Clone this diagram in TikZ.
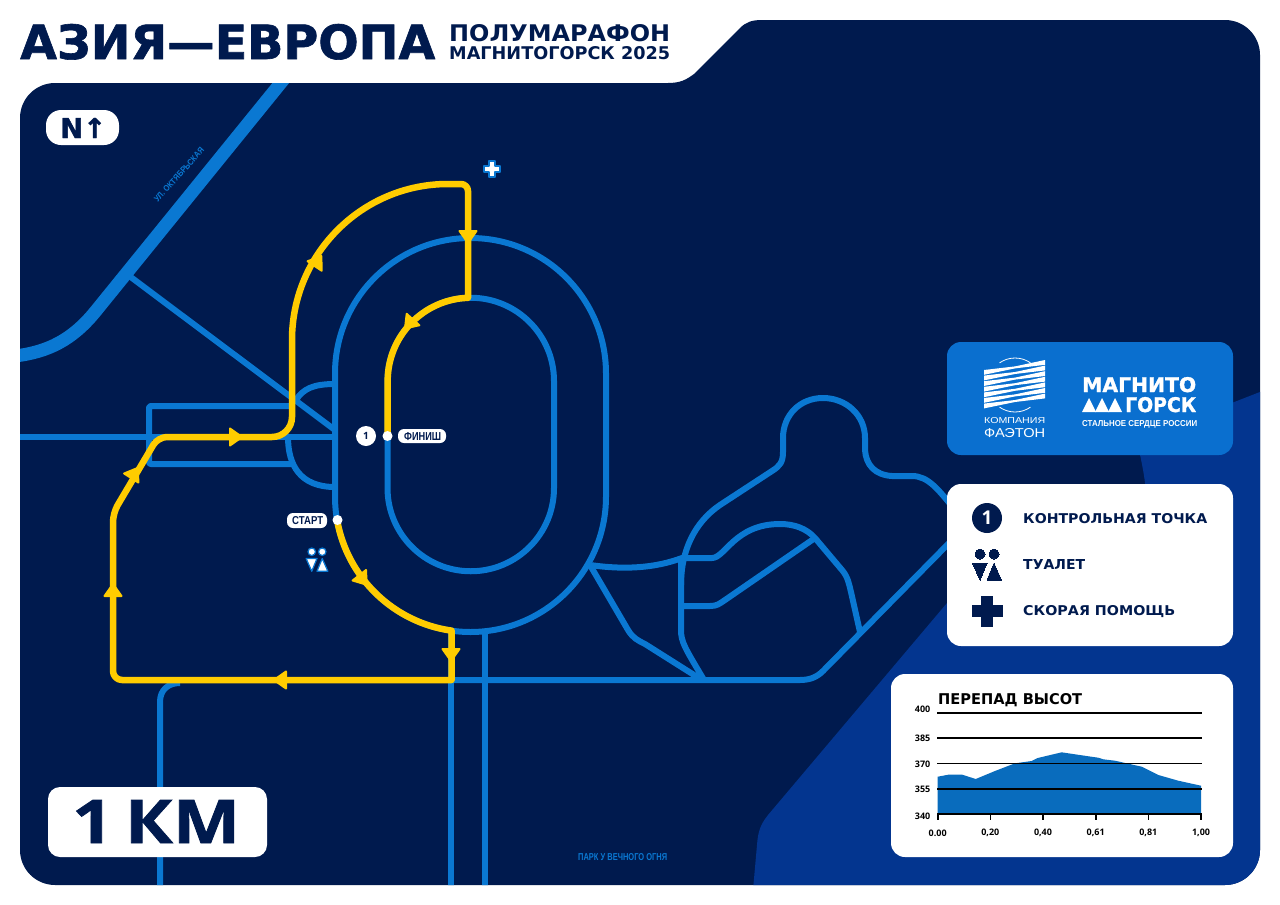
\documentclass[tikz,border=0pt]{standalone}
\usepackage{fontspec}
\usepackage{graphicx}
\setmainfont{Liberation Sans}
\newfontfamily\widefont{DejaVu Sans}
\newfontfamily\heavyfont{DejaVu Sans}[BoldFeatures={FakeBold=1.3}]
\newfontfamily\blockfont{Open Sans}[BoldFeatures={FakeBold=1.2}]
\newfontfamily\digitfont{Open Sans}
\usetikzlibrary{calc}

\definecolor{mapnavy}{HTML}{001A4E}
\definecolor{mapdeep}{HTML}{03358F}
\definecolor{roadblue}{HTML}{0A78D2}
\definecolor{logoblue}{HTML}{0A6FCF}
\definecolor{trackyellow}{HTML}{FFCC00}

\tikzset{
	road/.style={draw=roadblue, line width=6pt, line join=round},
	track/.style={draw=trackyellow, line width=6.5pt, line join=round, line cap=round},
	panel/.style={fill=white, rounded corners=14pt},
	txt/.style={inner sep=0pt, anchor=base west, text=mapnavy},
	pill/.style={fill=white, rounded corners=6pt},
	dot/.style={fill=white},
	gridline/.style={draw=black, line width=1.6pt}
}

\newcommand{\fitlabel}[3]{\resizebox{#1pt}{#2pt}{#3}}
\newcommand{\mapoutline}{(20,118) arc (180:270:35) -- (668,83) .. controls (680,83) and (686,80) .. (694,74) -- (740,28) .. controls (746,22) and (752,20) .. (762,20) -- (1225,20) arc (270:360:35) -- (1260,850) arc (0:90:35) -- (55,885) arc (90:180:35) -- cycle}
\newcommand{\wcsign}[4]{
	\begin{scope}[shift={(#1,#2)}, scale=#3]
		\filldraw[#4] (-7,-11) circle (5);
		\filldraw[#4] (7,-11) circle (5);
		\filldraw[#4, line join=round] (-14.5,-2) -- (0,-2) -- (-7,15) -- cycle;
		\filldraw[#4, line join=round] (0,15) -- (14.5,15) -- (7,-2) -- cycle;
	\end{scope}
}
\newcommand{\crosssign}[4]{
	\begin{scope}[shift={(#1,#2)}, scale=#3]
		\filldraw[#4, line join=round] (-5.5,-15) -- (5.5,-15) -- (5.5,-5.5) -- (15,-5.5) -- (15,5.5) -- (5.5,5.5) -- (5.5,15) -- (-5.5,15) -- (-5.5,5.5) -- (-15,5.5) -- (-15,-5.5) -- (-5.5,-5.5) -- cycle;
	\end{scope}
}

\begin{document}
\begin{tikzpicture}[x=1pt, y=1pt, yscale=-1]
	\useasboundingbox (0,0) rectangle (1280,905);
	\fill[white] (0,0) rectangle (1280,905);
	\fill[mapnavy] \mapoutline;

	\begin{scope}
		\clip \mapoutline;

		% deep blue corner
		\fill[mapdeep] (1265,390) -- (1137,440) .. controls (1142,465) and (1146,480) .. (1146,500) -- (947,603) -- (768,815) .. controls (760,825) and (758,832) .. (757,845) -- (753,890) -- (1265,890) -- cycle;

		% streets
		\draw[road, line width=13pt] (284,79) -- (95,312) .. controls (72,340) and (48,352) .. (15,356);
		\draw[road] (128,275) -- (335,430);
		\draw[road] (15,437) -- (335,437);
		\draw[road, rounded corners=2pt] (292,406) -- (149,406) -- (149,464) -- (292,464);
		\draw[road] (296,400) .. controls (303,389) and (313,384) .. (335,384);
		\draw[road] (288,437) .. controls (288,465) and (300,487) .. (335,487);
		\draw[road] (160,890) -- (160,702) .. controls (160,690) and (168,683) .. (180,683);
		\draw[road] (451,630) -- (451,890);
		\draw[road] (485,632) -- (485,890);
		\draw[road] (451,680) -- (800,680) .. controls (810,680) and (817,677) .. (823,671) -- (955,537);

		% stadium
		\draw[road] (335,373.5) arc (180:360:135.5) -- (606,496.5) arc (0:180:135.5) -- cycle;
		\draw[road] (387.5,381) arc (180:360:83.25) -- (554,488) arc (0:180:83.25) -- cycle;

		% park paths
		\draw[road] (590,565) .. controls (625,570) and (655,568) .. (682,558) -- (712,558) .. controls (725,558) and (735,524) .. (780,524) .. controls (795,524) and (807,529) .. (815,538) -- (842,570) .. controls (848,577) and (849,584) .. (851,592) -- (860,632);
		\draw[road] (681,606) -- (710,606) .. controls (717,606) and (719,604) .. (725,600) -- (815,538);
		\draw[road] (681,558) -- (681,630) .. controls (681,642) and (685,648) .. (704,680);
		\draw[road] (590,565) -- (628,630) .. controls (633,638) and (637,640) .. (645,644) -- (702,680);
		\draw[road] (681,585) .. controls (681,550) and (695,522) .. (720,505) -- (772,471) .. controls (780,466) and (783,462) .. (783,452) -- (783,438) .. controls (783,415) and (800,398) .. (823,398) .. controls (846,398) and (865,415) .. (865,438) -- (865,450) .. controls (866,465) and (875,475) .. (892,476) -- (912,476) .. controls (928,476) and (938,489) .. (955,510);
	\end{scope}

	% race track
	\draw[track] (337.06,520) arc (170:98:135.5) -- (451.6,680) [rounded corners=9pt] -- (113,680) -- (113,513) -- (158,437) [rounded corners=20pt] -- (292,437) -- (292,360) [rounded corners=7pt] .. controls (292,254) and (362,184) .. (455,184) -- (468,184) [sharp corners] -- (468,297.8) arc (268:180:83.25) -- (387.5,436);
	\foreach \tx/\ty/\tang in {468/237/90, 409/324/132, 318/261/-56, 236/437/0, 134.5/473/-57.5, 113/590/-90, 280/680/180, 451/655/90, 363/580/52}
		\fill[trackyellow, line join=round, draw=trackyellow, line width=2pt, shift={(\tx,\ty)}, rotate=\tang] (6,0) -- (-6,-8.5) -- (-6,8.5) -- cycle;

	% title
	\node[txt] (titlemain) at (20,59) {\fitlabel{415}{35}{\heavyfont\bfseries АЗИЯ—ЕВРОПА}};
	\node[txt] (titlerace) at (449,41) {\fitlabel{221}{17}{\widefont\bfseries ПОЛУМАРАФОН}};
	\node[txt] (titlecity) at (449,59) {\fitlabel{221}{13}{\widefont\bfseries МАГНИТОГОРСК 2025}};

	% north and scale
	\fill[pill, rounded corners=15pt] (46,110) rectangle (119,145);
	\node[txt] (northmark) at (60,138) {\fitlabel{46}{20}{\heavyfont\bfseries N↑}};
	\fill[panel, rounded corners=12pt] (48,787) rectangle (267,857);
	\node[txt] (scalemark) at (72,843) {\fitlabel{168}{43}{\blockfont\bfseries 1\,КМ}};

	% street names
	\node[inner sep=0pt, rotate=48, text=roadblue] (streetname) at (179,175) {\fitlabel{70}{6}{\bfseries УЛ. ОКТЯБРЬСКАЯ}};
	\node[txt, text=roadblue] (parkname) at (578,860) {\fitlabel{89}{7}{\bfseries ПАРК У ВЕЧНОГО ОГНЯ}};

	% points on the map
	\fill[dot] (387.5,436) circle (5);
	\fill[dot] (337.5,520) circle (5);
	\fill[white] (366,436) circle (10);
	\node[inner sep=0pt, text=mapnavy] (pointone) at (366,436) {\digitfont\fontsize{10}{10}\selectfont\bfseries 1};
	\fill[pill] (398,429) rectangle (446,443);
	\node[txt] (finishname) at (404,440) {\fitlabel{37}{8}{\bfseries ФИНИШ}};
	\fill[pill] (287,513) rectangle (327,528);
	\node[txt] (startname) at (292,524.5) {\fitlabel{31}{8}{\bfseries СТАРТ}};
	\wcsign{317}{560}{0.75}{fill=white, draw=roadblue, line width=1.2pt}
	\crosssign{492}{169}{0.55}{fill=white, draw=roadblue, line width=1.8pt}

	% logo panel
	\fill[logoblue, rounded corners=14pt] (947,342) rectangle (1233,455);
	\draw[white, line width=0.8pt] (1015,385) ++(235:27) arc (235:305:27);
	\draw[white, line width=0.8pt] (1015,385) ++(55:27) arc (55:125:27);
	\foreach \ly in {0,...,6}
		\fill[white] (984,370+\ly*5.6) -- (1015,366.4+\ly*5.6) -- (1045,360+\ly*5.6) -- (1045,364.8+\ly*5.6) -- (1015,368.4+\ly*5.6) -- (984,374.8+\ly*5.6) -- cycle;
	\node[txt, text=white] (firmtop) at (984,423) {\fitlabel{61}{6}{КОМПАНИЯ}};
	\node[txt, text=white] (firmname) at (984,437) {\fitlabel{61}{9}{ФАЭТОН}};
	\node[txt, text=white] (cityup) at (1082,392) {\fitlabel{114}{15}{\heavyfont\bfseries МАГНИТО}};
	\node[txt, text=white] (citydown) at (1125,412) {\fitlabel{71}{15}{\heavyfont\bfseries ГОРСК}};
	\foreach \mx in {1082,1095,1108}
		\fill[white] (\mx,412) -- (\mx+7,398) -- (\mx+14,412) -- cycle;
	\node[txt, text=white] (citytag) at (1082,426) {\fitlabel{115}{6}{\bfseries СТАЛЬНОЕ СЕРДЦЕ РОССИИ}};

	% legend panel
	\fill[panel] (947,484) rectangle (1233,646);
	\fill[mapnavy] (987,518) circle (15);
	\node[inner sep=0pt, text=white] (legendone) at (987,518) {\digitfont\fontsize{19}{19}\selectfont\bfseries 1};
	\node[txt] (legendpoint) at (1023,523) {\fitlabel{184}{10}{\widefont\bfseries КОНТРОЛЬНАЯ ТОЧКА}};
	\wcsign{987}{565}{1}{fill=mapnavy, draw=mapnavy, line width=0pt}
	\node[txt] (legendwc) at (1023,569) {\fitlabel{62}{10}{\widefont\bfseries ТУАЛЕТ}};
	\crosssign{987}{611}{1}{fill=mapnavy, draw=mapnavy, line width=0pt}
	\node[txt] (legendaid) at (1023,615) {\fitlabel{152}{10}{\widefont\bfseries СКОРАЯ ПОМОЩЬ}};

	% height chart
	\fill[panel] (891,674) rectangle (1233,857);
	\node[txt, text=black] (charttitle) at (938,704) {\fitlabel{144}{11}{\widefont\bfseries ПЕРЕПАД ВЫСОТ}};
	\fill[roadblue!90!black] (937.7,776.7) -- (948.3,774.7) -- (962.3,774.7) -- (975.7,779) -- (995,771) -- (1015,763.3) -- (1031.7,761) -- (1037.7,758) -- (1061.7,752.3) -- (1081.7,755.3) -- (1098.3,757.7) -- (1103.3,759.3) -- (1115,760.7) -- (1141.7,766.7) -- (1158.3,775) -- (1178.3,780.7) -- (1201,785.7) -- (1201,814) -- (937.7,814) -- cycle;
	\foreach \gy/\ly/\gtext in {712.7/709/400, 738/738/385, 763.3/764/370, 788.7/789/355, 814/816/340} {
		\draw[gridline] (937,\gy) -- (1202,\gy);
		\node[inner sep=0pt, anchor=east, text=black] at (930.5,\ly) {\digitfont\fontsize{9}{9}\selectfont\bfseries\gtext};
	}
	\foreach \gx/\gtext in {937.7/0.00, 990.3/{0,20}, 1043/{0,40}, 1095.7/{0,61}, 1148.3/{0,81}, 1201/{1,00}} {
		\draw[gridline] (\gx,814) -- (\gx,820);
		\node[inner sep=0pt, text=black] at (\gx,833) {\digitfont\fontsize{9}{9}\selectfont\bfseries\gtext};
	}
\end{tikzpicture}
\end{document}
